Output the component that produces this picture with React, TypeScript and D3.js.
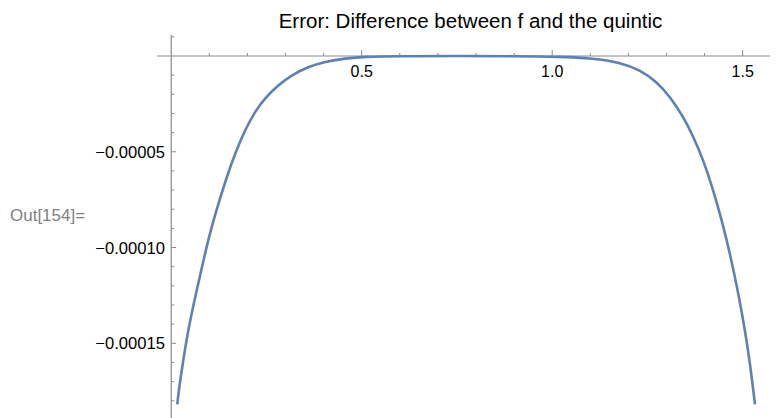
import React from "react";
import * as d3 from "d3";

const title = "Error: Difference between f and the quintic";
const outLabel = "Out[154]=";

const xValues = [
  0.016, 0.0189, 0.0315, 0.0446, 0.0612, 0.079, 0.0971, 0.1113, 0.1244, 0.1459,
  0.168, 0.1937, 0.22, 0.2462, 0.2811, 0.3163, 0.3598, 0.4037, 0.4562, 0.5087,
  0.6, 0.75, 0.9, 1.0205, 1.1079, 1.178, 1.2304, 1.2743, 1.3092, 1.3441, 1.3704,
  1.3966, 1.4228, 1.4449, 1.4667, 1.4885, 1.506, 1.5192, 1.5323,
];
const errValues = [
  -1.8185e-4, -1.761e-4, -1.587e-4, -1.4306e-4, -1.274e-4, -1.1173e-4, -9.607e-5, -8.562e-5, -7.69e-5, -6.302e-5,
  -5.08e-5, -3.864e-5, -2.9e-5, -2.2e-5, -1.514e-5, -9.92e-6, -5.59e-6, -2.98e-6, -1.2e-6, -3.7e-7,
  -5e-8, 0, -5e-8, -3.7e-7, -1.2e-6, -3.3e-6, -7.31e-6, -1.342e-5, -2.125e-5, -3.169e-5, -4.213e-5,
  -5.43e-5, -6.997e-5, -8.562e-5, -1.0301e-4, -1.2389e-4, -1.4306e-4, -1.6044e-4, -1.8185e-4,
];

const xMajorTicks = [0.5, 1.0, 1.5];
const xMajorLabels = ["0.5", "1.0", "1.5"];
const xMinorTicks = [0.1, 0.2, 0.3, 0.4, 0.6, 0.7, 0.8, 0.9, 1.1, 1.2, 1.3, 1.4];
const yMajorTicks = [-0.00005, -0.0001, -0.00015];
const yMajorLabels = ["\u22120.00005", "\u22120.00010", "\u22120.00015"];
const yMinorTicks = [
  0.00001, -0.00001, -0.00002, -0.00003, -0.00004, -0.00006, -0.00007, -0.00008, -0.00009,
  -0.00011, -0.00012, -0.00013, -0.00014, -0.00016, -0.00017, -0.00018,
];

const W = 776;
const H = 418;
const font = "'Liberation Sans', Arial, Helvetica, sans-serif";

export default function App() {
  const x = d3.scaleLinear().domain([0, 1.5]).range([171.2, 742.7]);
  const y = d3.scaleLinear().domain([0, -0.00015]).range([56, 343.3]);
  const pts: [number, number][] = xValues.map((v, i) => [v, errValues[i]]);
  const line = d3
    .line<[number, number]>()
    .x((d) => x(d[0]))
    .y((d) => y(d[1]))
    .curve(d3.curveBasis);
  const axisColor = "#8a8a8a";
  const x0 = x(0);
  const y0 = y(0);
  return (
    <svg
      width={W}
      height={H}
      style={{ position: "absolute", left: 0, top: 0, background: "#fff" }}
      fontFamily={font}
    >
      <text x={470.5} y={27.5} fontSize={20.5} textAnchor="middle" fill="#000">
        {title}
      </text>
      <text x={10} y={221} fontSize={17} fill="#808080">
        {outLabel}
      </text>
      {/* x axis */}
      <line x1={157} x2={770} y1={y0} y2={y0} stroke={axisColor} strokeWidth={1.2} />
      {xMinorTicks.map((t) => (
        <line key={"xm" + t} x1={x(t)} x2={x(t)} y1={y0} y2={y0 - 3} stroke={axisColor} strokeWidth={1} />
      ))}
      {xMajorTicks.map((t, i) => (
        <g key={"xM" + t}>
          <line x1={x(t)} x2={x(t)} y1={y0} y2={y0 - 6} stroke={axisColor} strokeWidth={1} />
          <text x={x(t)} y={77} fontSize={16} textAnchor="middle" fill="#000">
            {xMajorLabels[i]}
          </text>
        </g>
      ))}
      {/* y axis */}
      <line x1={x0} x2={x0} y1={35} y2={H} stroke={axisColor} strokeWidth={1.2} />
      {yMinorTicks.map((t) => (
        <line key={"ym" + t} x1={x0} x2={x0 + 3} y1={y(t)} y2={y(t)} stroke={axisColor} strokeWidth={1} />
      ))}
      {yMajorTicks.map((t, i) => (
        <g key={"yM" + t}>
          <line x1={x0} x2={x0 + 5} y1={y(t)} y2={y(t)} stroke={axisColor} strokeWidth={1} />
          <text x={165} y={y(t)} dy="0.36em" fontSize={16.6} textAnchor="end" fill="#000">
            {yMajorLabels[i]}
          </text>
        </g>
      ))}
      <path d={line(pts) || ""} fill="none" stroke="#5e81b5" strokeWidth={2.6} strokeLinecap="butt" />
    </svg>
  );
}
